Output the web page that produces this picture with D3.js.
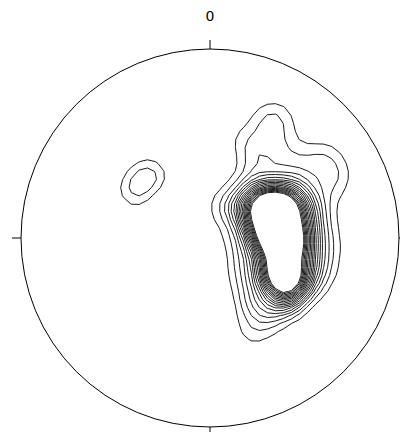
<!DOCTYPE html>
<html>
<head>
<meta charset="utf-8">
<script src="https://cdn.jsdelivr.net/npm/d3@7"></script>
<style>
  html, body { margin: 0; padding: 0; background: #fff; }
  svg { display: block; }
  text { font-family: "DejaVu Sans", sans-serif; font-size: 14px; fill: #000; }
</style>
</head>
<body>
<div id="chart"></div>
<script>
// pole positions on the equal-area net (unit radius, x = east, y = north), [x, y, count]
const corePoles = [
  [0.275, 0.185, 28], [0.317, 0.185, 28], [0.360, 0.185, 28], [0.402, 0.185, 28],
  [0.254, 0.138, 28], [0.302, 0.138, 28], [0.344, 0.138, 28], [0.392, 0.138, 28], [0.434, 0.138, 28],
  [0.265, 0.085, 28], [0.312, 0.085, 28], [0.354, 0.085, 28], [0.397, 0.085, 28], [0.439, 0.085, 28],
  [0.286, 0.032, 28], [0.339, 0.032, 28], [0.392, 0.032, 28], [0.444, 0.032, 28],
  [0.317, -0.021, 28], [0.360, -0.021, 28], [0.402, -0.021, 28], [0.444, -0.021, 28],
  [0.339, -0.074, 28], [0.392, -0.074, 28], [0.444, -0.074, 28],
  [0.344, -0.127, 28], [0.397, -0.127, 28], [0.444, -0.127, 28],
  [0.349, -0.180, 28], [0.397, -0.180, 28], [0.439, -0.180, 28],
  [0.365, -0.233, 28], [0.423, -0.233, 28],
  [0.392, -0.275, 28]
]

// poles just around the maximum
const rimPoles = [
  [0.243, 0.238, 12], [0.291, 0.238, 12], [0.339, 0.238, 12], [0.386, 0.238, 12], [0.429, 0.238, 12],
  [0.466, 0.206, 12],
  [0.492, 0.159, 12], [0.492, 0.111, 12], [0.492, 0.063, 12], [0.492, 0.016, 12],
  [0.492, -0.032, 12], [0.492, -0.079, 12], [0.492, -0.127, 12], [0.492, -0.175, 12],
  [0.481, -0.228, 12], [0.455, -0.275, 12],
  [0.413, -0.312, 12], [0.365, -0.312, 12], [0.328, -0.280, 12],
  [0.307, -0.238, 12], [0.302, -0.190, 12], [0.296, -0.143, 12], [0.291, -0.095, 12],
  [0.270, -0.048, 12], [0.249, -0.005, 12], [0.222, 0.037, 12], [0.206, 0.085, 12],
  [0.201, 0.132, 12], [0.206, 0.180, 12],
  [0.540, 0.175, 3], [0.540, 0.122, 3], [0.540, 0.069, 3], [0.540, 0.016, 3],
  [0.540, -0.037, 3], [0.540, -0.090, 3], [0.540, -0.143, 3], [0.540, -0.196, 3],
  [0.519, -0.265, 3], [0.503, 0.238, 3]
]

const shoulderPoles = [
  [0.16, 0.20, 5], [0.21, 0.25, 5], [0.28, 0.30, 5], [0.35, 0.31, 5], [0.42, 0.30, 5], [0.49, 0.25, 5],
  [0.12, 0.16, 5], [0.17, 0.12, 5],
  [0.18, -0.09, 6], [0.19, -0.18, 6], [0.20, -0.27, 6], [0.23, -0.35, 6],
  [0.29, -0.38, 6], [0.36, -0.40, 6], [0.43, -0.37, 6],
  [0.28, 0.44, 5]
]

// scattered poles, rows: [y, [x, x, ...]], one count each
const haloRows = [
  [0.66, [0.29, 0.37]],
  [0.59, [0.26, 0.32, 0.39]],
  [0.52, [0.16, 0.24, 0.32, 0.40]],
  [0.44, [0.20, 0.28, 0.35, 0.43, 0.51, 0.58, 0.65]],
  [0.36, [0.20, 0.28, 0.35, 0.43, 0.50, 0.57, 0.63, 0.69]],
  [0.28, [0.14, 0.22, 0.30, 0.38, 0.46, 0.53, 0.60, 0.67]],
  [0.20, [0.06, 0.14, 0.22, 0.30, 0.38, 0.46, 0.54, 0.62]],
  [0.12, [0.06, 0.14, 0.22, 0.30, 0.38, 0.46, 0.54, 0.62]],
  [0.04, [0.11, 0.18, 0.26, 0.34, 0.42, 0.49, 0.56, 0.63]],
  [-0.04, [0.15, 0.22, 0.29, 0.37, 0.44, 0.51, 0.58, 0.65]],
  [-0.12, [0.17, 0.24, 0.31, 0.38, 0.45, 0.51, 0.57, 0.63]],
  [-0.20, [0.17, 0.25, 0.33, 0.41, 0.48, 0.55, 0.61]],
  [-0.28, [0.20, 0.28, 0.35, 0.42, 0.49, 0.55]],
  [-0.35, [0.21, 0.29, 0.36, 0.43]],
  [-0.43, [0.21, 0.29, 0.36]],
  [-0.50, [0.20, 0.28]]
]
const haloCount = 5.2

const westPoles = [
  [-0.392, 0.221, 6], [-0.428, 0.259, 6],
  [-0.342, 0.281, 6], [-0.378, 0.319, 6],
  [-0.292, 0.331, 6], [-0.328, 0.369, 6]
]

const levels = [1, 2, 3, 4, 5, 6, 7, 8, 9, 10, 11, 12, 13, 14, 15, 16, 17, 18]
const tickAzimuths = [0, 90, 180, 270]
const tickLabels = ['0', '', '', '']

const width = 400, height = 432
const cx = 210, cy = 238, R = 189

const x = d3.scaleLinear().domain([-1, 1]).range([cx - R, cx + R])
const y = d3.scaleLinear().domain([-1, 1]).range([cy + R, cy - R])

const halo = haloRows.flatMap(([py, xs]) => xs.map(px => [px, py, haloCount]))
const poles = [].concat(corePoles, rimPoles, shoulderPoles, halo, westPoles)

const svg = d3.select('#chart').append('svg').attr('width', width).attr('height', height)

svg.append('clipPath').attr('id', 'net')
  .append('circle').attr('cx', cx).attr('cy', cy).attr('r', R)

// density contours
const density = d3.contourDensity()
  .x(d => x(d[0]))
  .y(d => y(d[1]))
  .weight(d => d[2])
  .size([width, height])
  .cellSize(8)
  .bandwidth(6)
  .thresholds(levels.map(l => l / 100))

svg.append('g').attr('clip-path', 'url(#net)')
  .selectAll('path').data(density(poles)).enter().append('path')
  .attr('d', d3.geoPath())
  .attr('fill', 'none')
  .attr('stroke', '#000')
  .attr('stroke-width', 0.9)

// primitive circle
svg.append('circle').attr('cx', cx).attr('cy', cy).attr('r', R)
  .attr('fill', 'none').attr('stroke', '#000').attr('stroke-width', 1)

// azimuth ticks
const tickLen = 9 / R
tickAzimuths.forEach((az, i) => {
  let a = az * Math.PI / 180
  svg.append('line')
    .attr('x1', x(Math.sin(a))).attr('y1', y(Math.cos(a)))
    .attr('x2', x(Math.sin(a) * (1 + tickLen))).attr('y2', y(Math.cos(a) * (1 + tickLen)))
    .attr('stroke', '#000').attr('stroke-width', 1)
  if (tickLabels[i]) {
    svg.append('text').text(tickLabels[i])
      .attr('x', x(Math.sin(a) * (1 + 33 / R)))
      .attr('y', y(Math.cos(a) * (1 + 33 / R)) + 5)
      .attr('text-anchor', 'middle')
  }
})
</script>
</body>
</html>
